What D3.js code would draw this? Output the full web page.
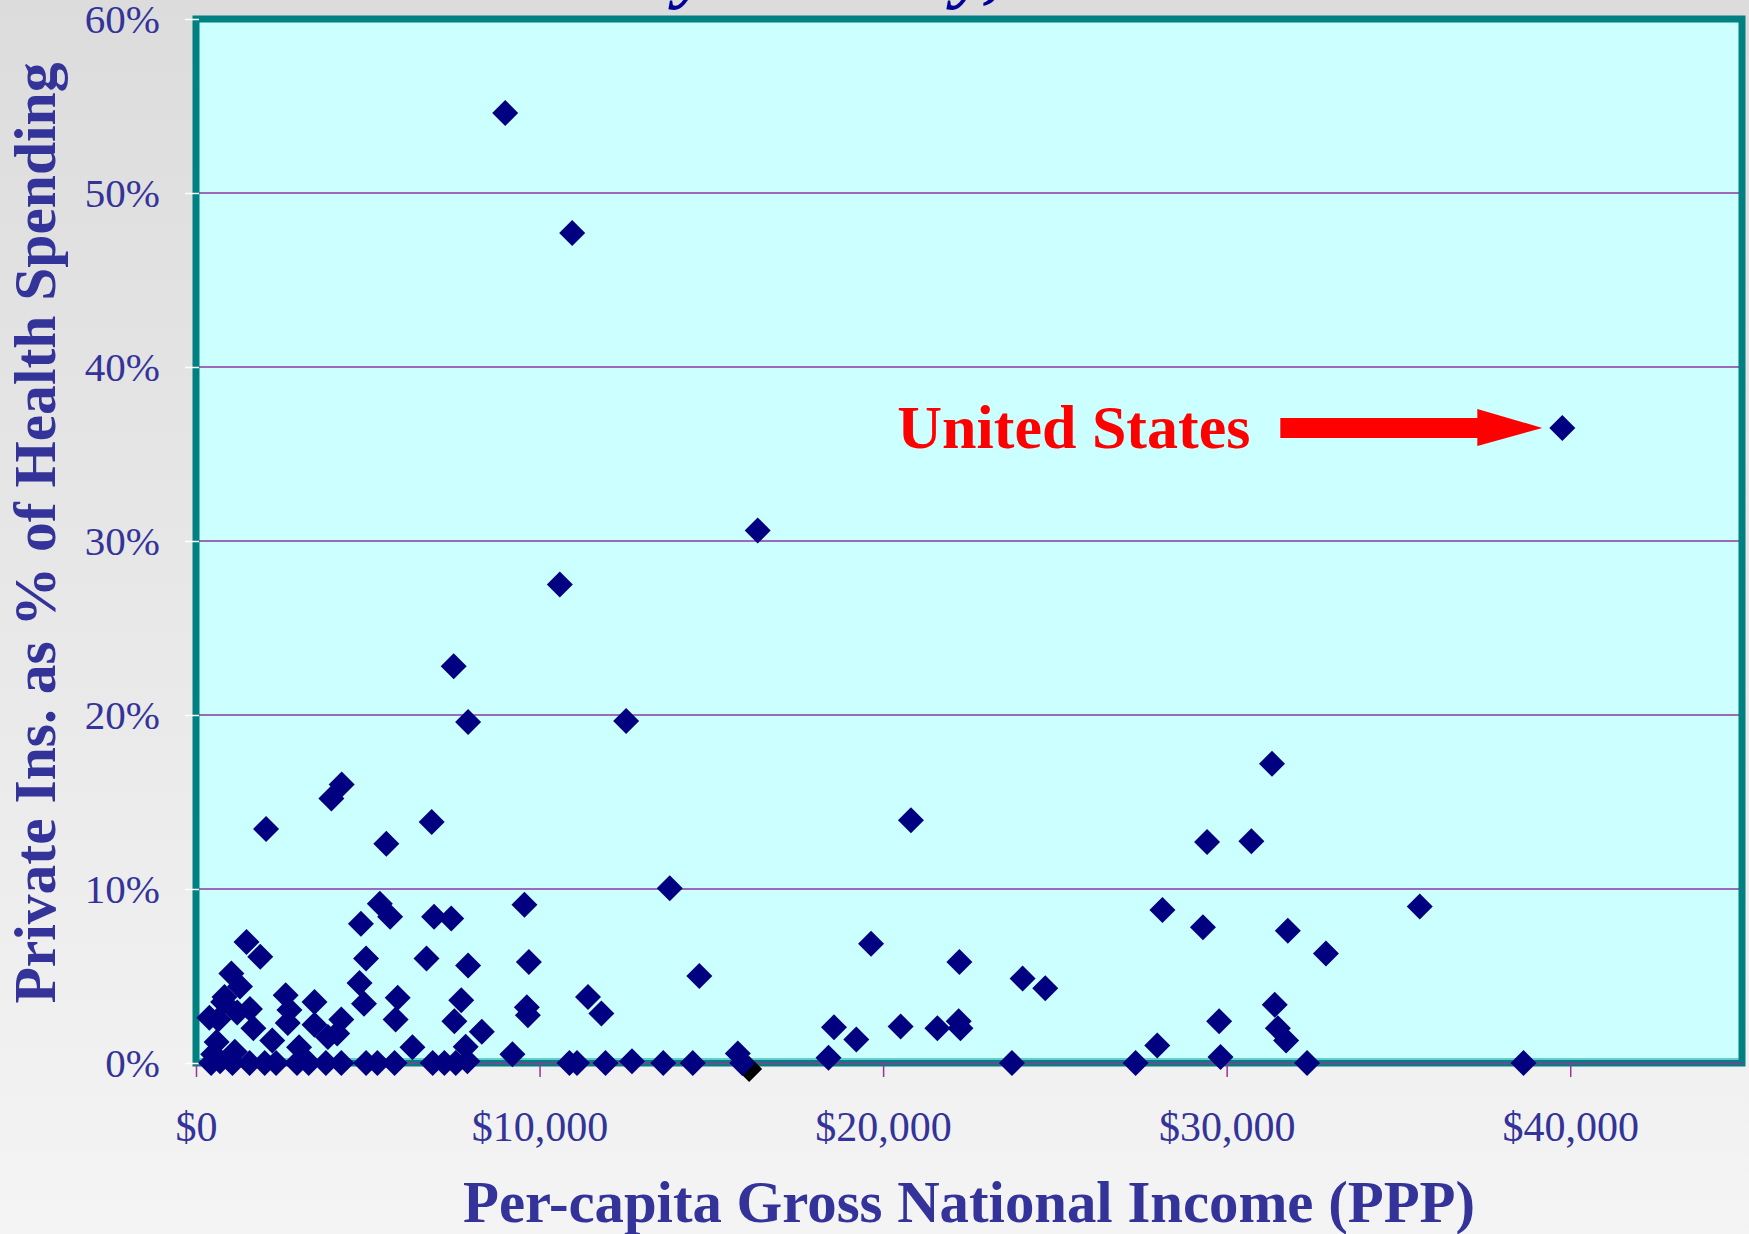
<!DOCTYPE html>
<html>
<head>
<meta charset="utf-8">
<script src="https://cdn.jsdelivr.net/npm/d3@7"></script>
<style>
  html, body { margin: 0; padding: 0; overflow: hidden; background: #eeeeee; }
  svg { display: block; }
</style>
</head>
<body>
<svg id="chart" width="1749" height="1234"></svg>
<script>
// ---------------- DATA ----------------
// Per-capita GNI (PPP, US$) of each country
const gniPerCapita = [
  9000, 10950, 16350, 10590, 7500, 7920, 12520, 31320, 4240, 3940,
  20810, 6860, 2040, 5540, 29430, 30720, 13790, 35620, 9560, 5350,
  5650, 6930, 7430, 4800, 28130, 29310, 31780, 32890, 19650, 1470,
  1870, 6710, 4950, 9690, 7920, 22220, 14650, 24060, 24720, 1030,
  4760, 4890, 5870, 5810, 7720, 7520, 8320, 7850, 6300, 9630,
  9660, 9210, 11410, 11800, 15770, 18570, 19220, 20510, 21580, 22200,
  22250, 18410, 27980, 29780, 29820, 31400, 31490, 31730, 2610, 2720,
  2670, 2220, 3450, 3450, 3840, 4230, 4110, 3000, 1280, 790,
  1570, 650, 1670, 600, 1130, 390, 830, 1200, 500,
  440, 700, 1060, 1560, 2000, 2330, 2940, 3280, 3780, 4230,
  4950, 5280, 5780, 6890, 7230, 7560, 7900, 10870, 11090, 11920,
  12690, 13600, 14460, 15900, 23750, 27350, 32340, 38640,
  39770
];
// Private insurance as % of health spending (same order)
const privateInsShare = [
  54.6, 47.7, 30.6, 27.5, 22.8, 19.6, 19.65, 17.2, 16.0, 15.2,
  13.95, 13.85, 13.45, 12.6, 12.7, 12.75, 10.05, 9.0, 9.1, 9.15,
  8.4, 8.4, 8.3, 8.0, 8.8, 7.8, 7.6, 6.3, 6.85, 6.95,
  6.1, 6.0, 6.0, 5.8, 5.6, 5.8, 5.0, 4.85, 4.3, 5.15,
  4.6, 3.4, 3.75, 2.5, 3.6, 2.4, 1.8, 0.94, 0.9, 3.2,
  2.75, 0.5, 3.8, 2.85, 0.55, 2.05, 1.35, 2.1, 2.0, 2.4,
  2.0, 0.3, 1.0, 2.4, 0.35, 3.35, 2.0, 1.3, 3.9, 3.05,
  2.3, 1.3, 3.5, 2.2, 1.5, 2.5, 1.7, 0.9, 4.4, 3.5,
  3.1, 2.5, 2.0, 1.2, 0.65, 2.6, 3.8, 2.9, 0.5,
  0, 0.1, 0, 0, 0, 0, 0, 0, 0, 0,
  0, 0, 0, 0, 0, 0, 0.1, 0, 0, 0,
  0.1, 0, 0, 0, 0, 0, 0, 0,
  36.5
];
// second (black) marker partly hidden under the axis
const blackGni = [16100];
const blackShare = [-0.35];

// Annotation
const annotationLabel = "United States";
const annotationIndex = gniPerCapita.length - 1;

// Ticks and titles
const xTickValues = [0, 10000, 20000, 30000, 40000];
const yTickValues = [0, 10, 20, 30, 40, 50, 60];
const gridValues = [10, 20, 30, 40, 50];
const xTitle = "Per-capita Gross National Income (PPP)";
const yTitle = "Private Ins. as % of Health Spending";
const titleFragment = "by Country,";

// ---------------- CHART ----------------
const svg = d3.select("#chart");
const W = 1749, H = 1234;
const serif = "'Liberation Serif', 'Times New Roman', serif";
const textBlue = "#333399";

const x = d3.scaleLinear().domain([0, 45000]).range([196, 1742]);
const y = d3.scaleLinear().domain([0, 60]).range([1063, 19]);

const defs = svg.append("defs");
const bg = defs.append("linearGradient").attr("id", "bg")
  .attr("x1", 0).attr("y1", 0).attr("x2", 0).attr("y2", 1);
bg.append("stop").attr("offset", "0%").attr("stop-color", "#dcdcdc");
bg.append("stop").attr("offset", "100%").attr("stop-color", "#f4f4f4");

svg.append("rect").attr("width", W).attr("height", H).attr("fill", "url(#bg)");

// Title (only the descenders show above the plot)
const title = svg.append("text")
  .attr("font-family", serif).attr("font-weight", "bold").attr("font-style", "italic")
  .attr("font-size", 76).attr("fill", "#000099")
  .attr("x", 0).attr("y", -6)
  .text(titleFragment);
(function placeTitle() {
  const n = title.node();
  const p1 = n.getStartPositionOfChar(1).x;
  const p2 = n.getStartPositionOfChar(9).x;
  const fs = 76 * 278 / (p2 - p1);
  title.attr("font-size", fs);
  const q1 = n.getStartPositionOfChar(1).x;
  title.attr("x", 676 - q1);
})();

// Plot area
const px0 = x(0), px1 = x(45000), py0 = y(60), py1 = y(0);
svg.append("rect")
  .attr("x", px0).attr("y", py0).attr("width", px1 - px0).attr("height", py1 - py0)
  .attr("fill", "#ccffff");

// Gridlines
svg.append("g").selectAll("line").data(gridValues).join("line")
  .attr("x1", px0).attr("x2", px1)
  .attr("y1", d => y(d)).attr("y2", d => y(d))
  .attr("stroke", "#8a3aa0").attr("stroke-width", 1.3);

// Border
svg.append("rect")
  .attr("x", px0).attr("y", py0).attr("width", px1 - px0).attr("height", py1 - py0)
  .attr("fill", "none").attr("stroke", "#008080").attr("stroke-width", 7);
svg.append("line")
  .attr("x1", px0 + 4).attr("x2", px1 - 4).attr("y1", py1 - 4).attr("y2", py1 - 4)
  .attr("stroke", "#66cccc").attr("stroke-width", 2);

// X axis
const xAxis = svg.append("g").attr("transform", `translate(0,${py1})`)
  .call(d3.axisBottom(x).tickValues(xTickValues).tickSize(14).tickSizeOuter(0)
    .tickPadding(34).tickFormat(d => "$" + d3.format(",")(d)));
xAxis.select(".domain").attr("stroke", "#993399").attr("stroke-width", 1.5);
xAxis.selectAll(".tick line").attr("stroke", "#993399").attr("stroke-width", 1.5);
xAxis.selectAll(".tick text").attr("font-family", serif).attr("font-size", 42).attr("fill", textBlue);

// Y axis
const yAxis = svg.append("g").attr("transform", `translate(199,0)`)
  .call(d3.axisLeft(y).tickValues(yTickValues).tickSize(14).tickSizeOuter(0)
    .tickPadding(25).tickFormat(d => d + "%"));
yAxis.select(".domain").remove();
yAxis.selectAll(".tick line").attr("stroke", "#ffffff").attr("stroke-width", 1.5);
yAxis.selectAll(".tick text").attr("font-family", serif).attr("font-size", 41).attr("fill", textBlue);

// Markers: squares rotated 45° (diamonds)
const diamond = d3.symbol().type(d3.symbolSquare).size(338);
svg.append("g").selectAll("path").data(blackGni.map((g, i) => [g, blackShare[i]])).join("path")
  .attr("d", diamond)
  .attr("transform", d => `translate(${x(d[0])},${y(d[1])}) rotate(45)`)
  .attr("fill", "#000000");
svg.append("g").selectAll("path").data(gniPerCapita.map((g, i) => [g, privateInsShare[i]])).join("path")
  .attr("d", diamond)
  .attr("transform", d => `translate(${x(d[0])},${y(d[1])}) rotate(45)`)
  .attr("fill", "#000080");

// Annotation: label + arrow pointing at US
const ux = x(gniPerCapita[annotationIndex]), uy = y(privateInsShare[annotationIndex]);
svg.append("text")
  .attr("x", ux - 312).attr("y", uy + 20)
  .attr("text-anchor", "end")
  .attr("font-family", serif).attr("font-weight", "bold").attr("font-size", 62)
  .attr("fill", "#ff0000")
  .text(annotationLabel);
const tipX = ux - 20;
const arrow = d3.path();
arrow.moveTo(tipX - 262, uy - 10);
arrow.lineTo(tipX - 65, uy - 10);
arrow.lineTo(tipX - 65, uy - 19);
arrow.lineTo(tipX, uy);
arrow.lineTo(tipX - 65, uy + 18);
arrow.lineTo(tipX - 65, uy + 10);
arrow.lineTo(tipX - 262, uy + 10);
arrow.closePath();
svg.append("path").attr("d", arrow.toString()).attr("fill", "#ff0000");

// Axis titles
svg.append("text")
  .attr("x", (px0 + px1) / 2).attr("y", 1222)
  .attr("text-anchor", "middle")
  .attr("font-family", serif).attr("font-weight", "bold").attr("font-size", 58.5)
  .attr("fill", textBlue)
  .attr("textLength", 1012).attr("lengthAdjust", "spacingAndGlyphs")
  .text(xTitle);
svg.append("text")
  .attr("transform", "translate(55,533) rotate(-90)")
  .attr("text-anchor", "middle")
  .attr("font-family", serif).attr("font-weight", "bold").attr("font-size", 59)
  .attr("fill", textBlue)
  .attr("textLength", 941).attr("lengthAdjust", "spacingAndGlyphs")
  .text(yTitle);
</script>
</body>
</html>
